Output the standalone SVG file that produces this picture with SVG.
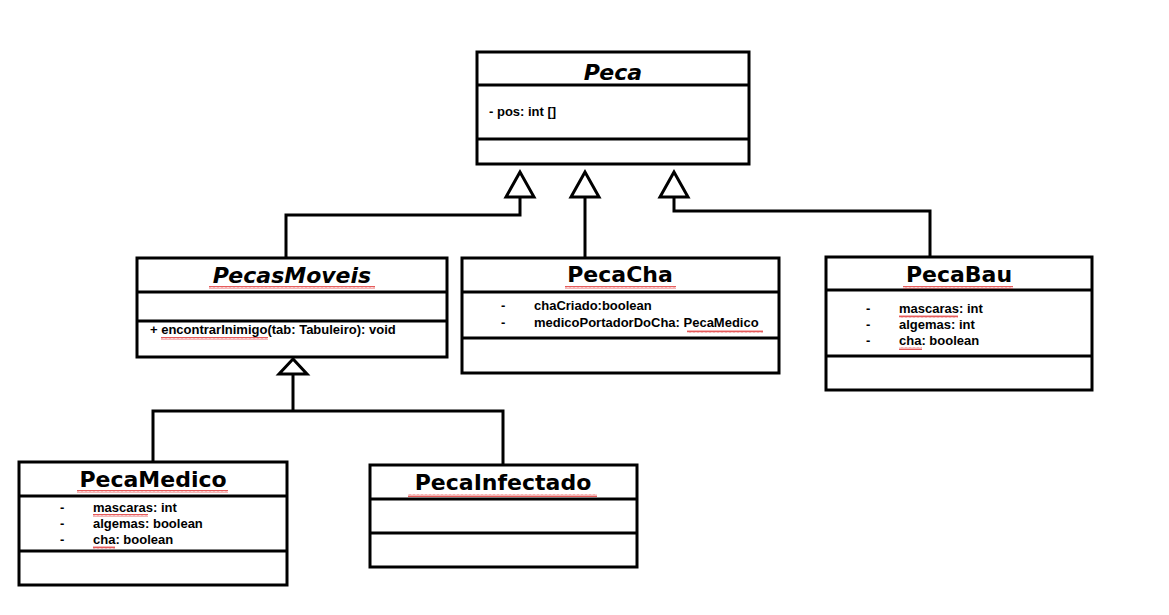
<svg xmlns="http://www.w3.org/2000/svg" width="1169" height="615" viewBox="0 0 1169 615">
<defs>
<pattern id="sq" width="4" height="3" patternUnits="userSpaceOnUse">
<path d="M0,2.5 L1,0.5 L2,2.5 L3,0.5 L4,2.5" fill="none" stroke="#e03030" stroke-width="0.8"/>
</pattern>
</defs>
<style>
.box{fill:#fff;stroke:#000;stroke-width:3}
.div{stroke:#000;stroke-width:3}
.t{font-family:"DejaVu Sans",Verdana,sans-serif;font-weight:bold;font-size:22px;fill:#000;text-anchor:middle}
.ti{font-style:italic}
.a{font-family:"Liberation Sans",Arial,sans-serif;font-weight:bold;font-size:13px;fill:#000}
.c{fill:none;stroke:#000;stroke-width:3}
.tri{fill:#fff;stroke:#000;stroke-width:3;stroke-linejoin:miter}
.sq{fill:url(#sq)}
</style>
<rect width="1169" height="615" fill="#fff"/>

<g id="connectors">
<polyline class="c" points="520,197 520,215 286,215 286,258"/>
<line class="c" x1="585" y1="197" x2="585" y2="258"/>
<polyline class="c" points="674,197 674,211 930,211 930,257"/>
<polyline class="c" points="293,374 293,411"/>
<polyline class="c" points="153,462 153,411 503,411 503,465"/>
<polygon class="tri" points="520,172 506,197 534,197"/>
<polygon class="tri" points="585,172 571,197 599,197"/>
<polygon class="tri" points="674,172 660,197 688,197"/>
<polygon class="tri" points="293,359 279,374 307,374"/>
</g>

<g id="Peca">
<rect class="box" x="477" y="52" width="272" height="112"/>
<line class="div" x1="477" y1="85" x2="749" y2="85"/>
<line class="div" x1="477" y1="139" x2="749" y2="139"/>
<text class="t ti" x="613" y="80">Peca</text>
<text class="a" x="489" y="116">- pos: int []</text>
</g>

<g id="PecasMoveis">
<rect class="box" x="137" y="258" width="310" height="99"/>
<line class="div" x1="137" y1="292" x2="447" y2="292"/>
<line class="div" x1="137" y1="321" x2="447" y2="321"/>
<text class="t ti" x="292" y="283">PecasMoveis</text>
<rect class="sq" x="209" y="286" width="166" height="3"/>
<text class="a" x="150" y="334">+ encontrarInimigo(tab: Tabuleiro): void</text>
<rect class="sq" x="161" y="337" width="107" height="3"/>
</g>

<g id="PecaCha">
<rect class="box" x="462" y="258" width="317" height="115"/>
<line class="div" x1="462" y1="292" x2="779" y2="292"/>
<line class="div" x1="462" y1="338" x2="779" y2="338"/>
<text class="t" x="620" y="282">PecaCha</text>
<rect class="sq" x="565" y="286" width="111" height="3"/>
<text class="a" x="501" y="310">-</text>
<text class="a" x="534" y="310">chaCriado:boolean</text>
<text class="a" x="501" y="327">-</text>
<text class="a" x="534" y="327">medicoPortadorDoCha: PecaMedico</text>
<rect class="sq" x="687" y="330" width="76" height="3"/>
</g>

<g id="PecaBau">
<rect class="box" x="826" y="257" width="266" height="133"/>
<line class="div" x1="826" y1="290" x2="1092" y2="290"/>
<line class="div" x1="826" y1="356" x2="1092" y2="356"/>
<text class="t" x="959" y="282">PecaBau</text>
<rect class="sq" x="903" y="286" width="110" height="3"/>
<text class="a" x="866" y="313">-</text>
<text class="a" x="899" y="313">mascaras: int</text>
<rect class="sq" x="899" y="315" width="59" height="3"/>
<text class="a" x="866" y="329">-</text>
<text class="a" x="899" y="329">algemas: int</text>
<text class="a" x="866" y="345">-</text>
<text class="a" x="899" y="345">cha: boolean</text>
<rect class="sq" x="899" y="347" width="23" height="3"/>
</g>

<g id="PecaMedico">
<rect class="box" x="19" y="462" width="268" height="123"/>
<line class="div" x1="19" y1="496" x2="287" y2="496"/>
<line class="div" x1="19" y1="551" x2="287" y2="551"/>
<text class="t" x="153" y="487">PecaMedico</text>
<rect class="sq" x="77" y="490" width="151" height="3"/>
<text class="a" x="60" y="512">-</text>
<text class="a" x="93" y="512">mascaras: int</text>
<rect class="sq" x="93" y="514" width="55" height="3"/>
<text class="a" x="60" y="528">-</text>
<text class="a" x="93" y="528">algemas: boolean</text>
<text class="a" x="60" y="544">-</text>
<text class="a" x="93" y="544">cha: boolean</text>
<rect class="sq" x="93" y="546" width="22" height="3"/>
</g>

<g id="PecaInfectado">
<rect class="box" x="370" y="465" width="267" height="102"/>
<line class="div" x1="370" y1="499" x2="637" y2="499"/>
<line class="div" x1="370" y1="533" x2="637" y2="533"/>
<text class="t" x="503" y="490">PecaInfectado</text>
<rect class="sq" x="408" y="494" width="189" height="3"/>
</g>
</svg>
